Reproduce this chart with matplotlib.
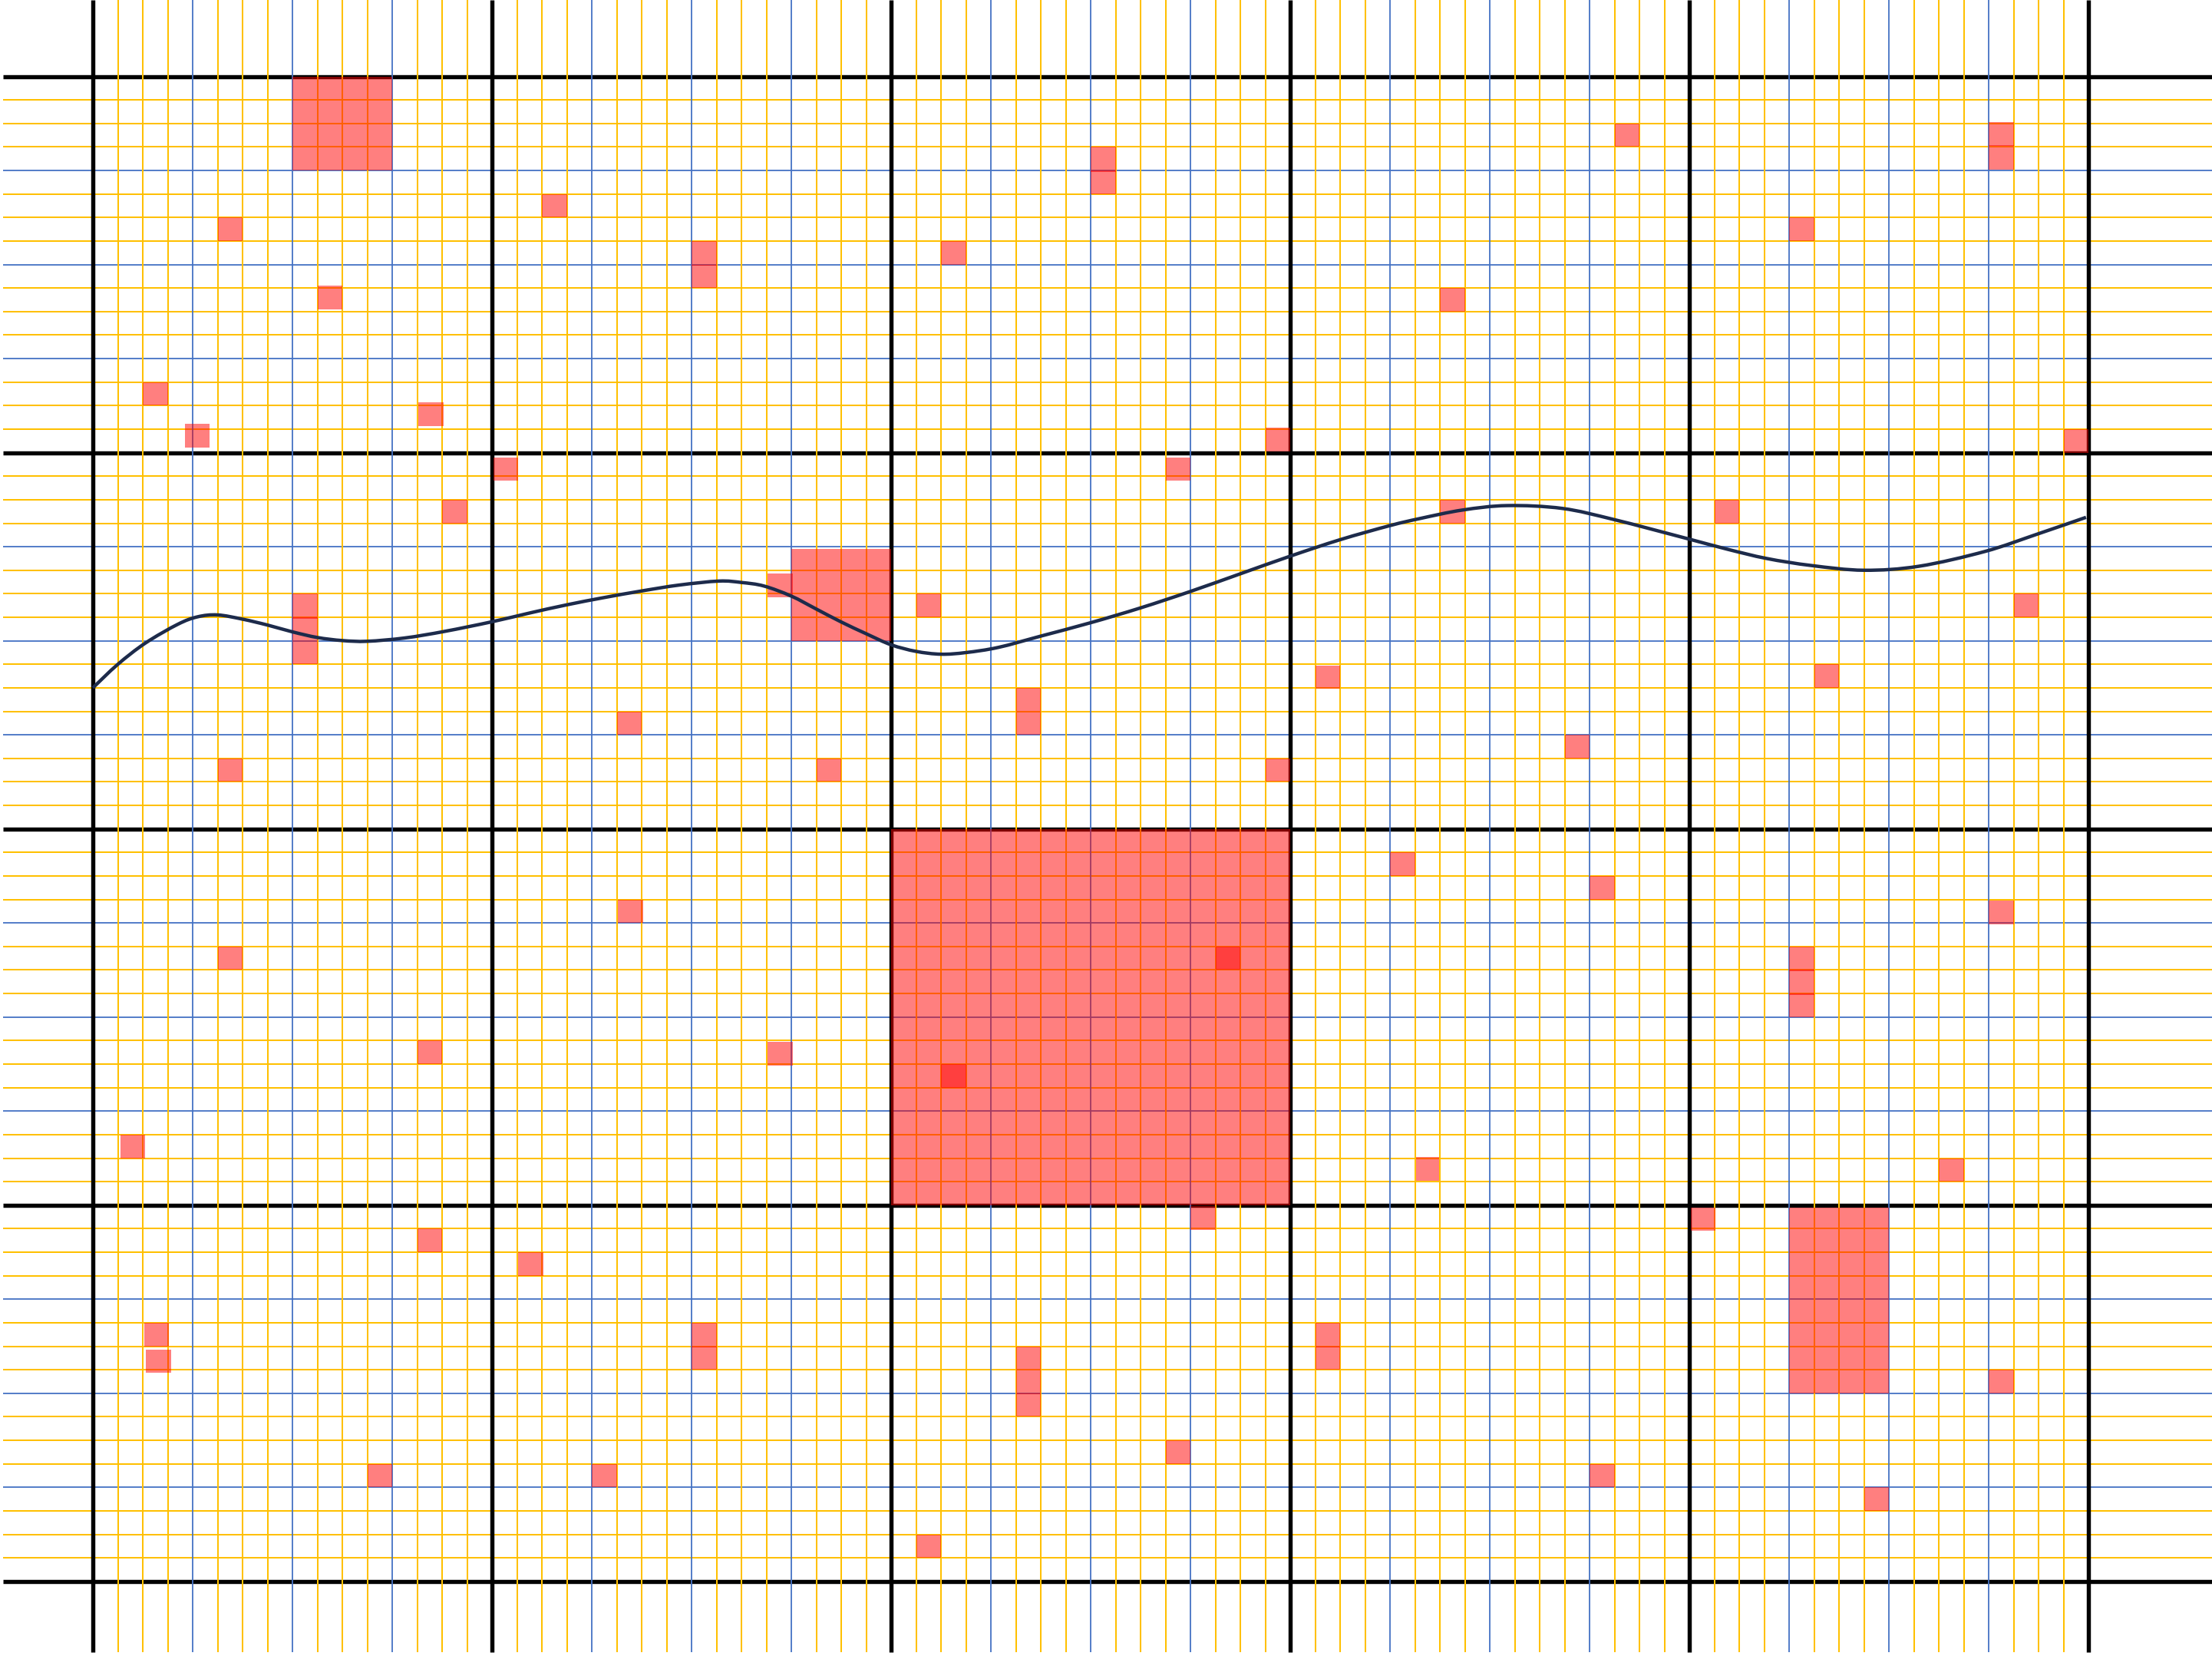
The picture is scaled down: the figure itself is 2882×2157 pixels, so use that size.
import matplotlib
matplotlib.use("Agg")
import matplotlib.pyplot as plt
from matplotlib.patches import Rectangle, PathPatch
from matplotlib.path import Path

# grid: 5 x 4 big cells, each split into 16 x 16 small cells
n_cols = 80
n_rows = 64

# red cells: (col, row, width, height) in small-cell units
cells = [
    (8, 0, 4, 4), (5, 6, 1, 1), (9, 8.9, 1, 1), (2, 13, 1, 1), (3.68, 14.78, 1, 1),
    (13.05, 13.87, 1, 1), (16.05, 16.2, 1, 1), (14, 18, 1, 1),
    (8, 22, 1, 1.05), (8, 23, 1, 1), (8, 24, 1, 1), (5, 29, 1, 1),
    (18, 5, 1, 1), (24, 7, 1, 1.05), (24, 8, 1, 1), (21, 27, 1, 1),
    (28, 20.1, 4, 3.9), (27.05, 21.15, 1, 1), (29, 29, 1, 1),
    (40, 3, 1, 1.06), (40, 4, 1, 1), (34, 7, 1, 1), (47, 14.95, 1, 1), (43, 16.2, 1, 1),
    (33, 22, 1, 1), (37, 26, 1, 1), (37, 27, 1, 1), (49, 25.05, 1, 1), (47, 29, 1, 1),
    (61, 2, 1, 1), (54, 9, 1, 1), (68, 6, 1, 1), (76, 1.95, 1, 1.02), (76, 2.92, 1, 1.05),
    (79, 15, 1, 1), (54, 18, 1, 1), (65, 18, 1, 1), (77, 22, 1, 1), (69, 25, 1, 1),
    (59, 28, 1, 1),
    (5, 37, 1, 1), (13, 41, 1, 1), (1.1, 45, 1, 1), (21.05, 35, 1, 1), (27.05, 41.05, 1, 1),
    (13, 49, 1, 1), (2.05, 53, 1, 1), (2.13, 54.13, 1, 1), (11, 59, 1, 1),
    (17.05, 50, 1, 1), (24, 53, 1, 1.05), (24, 54, 1, 1), (20, 59, 1, 1),
    (32, 32, 16, 16), (45, 37, 1, 1), (34, 42, 1, 1),
    (52, 33, 1, 1), (53.05, 45.95, 0.93, 1), (44, 48.05, 1, 1),
    (37, 54, 1, 1), (37, 55, 1, 1.05), (37, 56, 1, 1), (43, 58, 1, 1), (33, 62, 1, 1),
    (49, 53, 1, 1.04), (49, 54, 1, 1),
    (60, 34, 1, 1), (76, 35.05, 1, 1), (68, 37, 1, 1.05), (68, 38, 1, 1.05), (68, 39, 1, 1),
    (74, 46, 1, 1), (64.05, 48.1, 1, 1), (68, 48.1, 4, 7.9), (76, 55, 1, 1),
    (60, 59, 1, 1), (71, 60, 1, 1),
]

# navy curve (col, row)
curve_x = [0, 1.0, 2.1, 3.4, 4.2, 5.0, 6.0, 7.0, 8.0, 9.0, 10.0, 11.0, 12.5, 14.1,
           16.0, 17.5, 19.0, 20.5, 22.0, 23.5, 25.1, 26.0, 26.9, 28.0, 29.0,
           30.0, 31.0, 32.0, 33.0, 34.0, 35.0, 36.3, 38.0, 40.0, 42.0, 44.0, 46.0,
           48.0, 50.0, 52.0, 53.2, 54.9, 56.7, 58.9, 61.0, 63.9, 65.5, 67.1, 68.9,
           71.0, 73.2, 75.85, 77.9, 79.9]
curve_y = [26.0, 25.0, 24.1, 23.3, 22.98, 22.9, 23.08, 23.33, 23.62, 23.86, 23.99, 24.02,
           23.88, 23.6, 23.19, 22.82, 22.47, 22.16, 21.88, 21.63, 21.46, 21.52, 21.67,
           22.1, 22.65, 23.2, 23.7, 24.17, 24.45, 24.57, 24.5, 24.28, 23.8, 23.23, 22.6,
           21.9, 21.15, 20.4, 19.7, 19.1, 18.8, 18.44, 18.25, 18.37, 18.85, 19.65, 20.1,
           20.5, 20.8, 21.0, 20.83, 20.2, 19.48, 18.75]

ORANGE = '#FFC000'
BLUE = '#4472C4'
NAVY = '#1d2b4b'


def smooth_path(xs, ys):
    # bezier path through every point (smoothed line, like a spreadsheet chart)
    pts = list(zip(xs, ys))
    verts = [pts[0]]
    codes = [Path.MOVETO]
    for i in range(len(pts) - 1):
        p0 = pts[i - 1] if i > 0 else pts[i]
        p1 = pts[i]
        p2 = pts[i + 1]
        p3 = pts[i + 2] if i + 2 < len(pts) else pts[i + 1]
        c1 = (p1[0] + (p2[0] - p0[0]) / 6, p1[1] + (p2[1] - p0[1]) / 6)
        c2 = (p2[0] - (p3[0] - p1[0]) / 6, p2[1] - (p3[1] - p1[1]) / 6)
        verts += [c1, c2, p2]
        codes += [Path.CURVE4] * 3
    return Path(verts, codes)


fig = plt.figure(figsize=(28.82, 21.57), dpi=100)
ax = fig.add_axes([0, 0, 1, 1])
ax.set_xlim(-3.723, 84.95)
ax.set_ylim(67.17, -3.249)
ax.axis('off')

def line_style(i):
    if i % 16 == 0:
        return 'black', 3.9, 3
    if i % 4 == 0:
        return BLUE, 1.3, 2
    return ORANGE, 1.45, 1

# horizontals first, verticals drawn over them
for i in range(n_rows + 1):
    c, lw, z = line_style(i)
    ax.hlines(i, -3.615, 84.95, colors=c, linewidth=lw, zorder=z)
for i in range(n_cols + 1):
    c, lw, z = line_style(i)
    ax.vlines(i, -3.249, 67.0, colors=c, linewidth=lw, zorder=z + 3)

for col, row, w, h in cells:
    ax.add_patch(Rectangle((col, row), w, h, facecolor='red', edgecolor='none',
                           alpha=0.5, zorder=10))

ax.add_patch(PathPatch(smooth_path(curve_x, curve_y), facecolor='none', edgecolor=NAVY,
                       linewidth=3.2, zorder=12, joinstyle='round', capstyle='butt'))

fig.savefig('out.png', dpi=100)
